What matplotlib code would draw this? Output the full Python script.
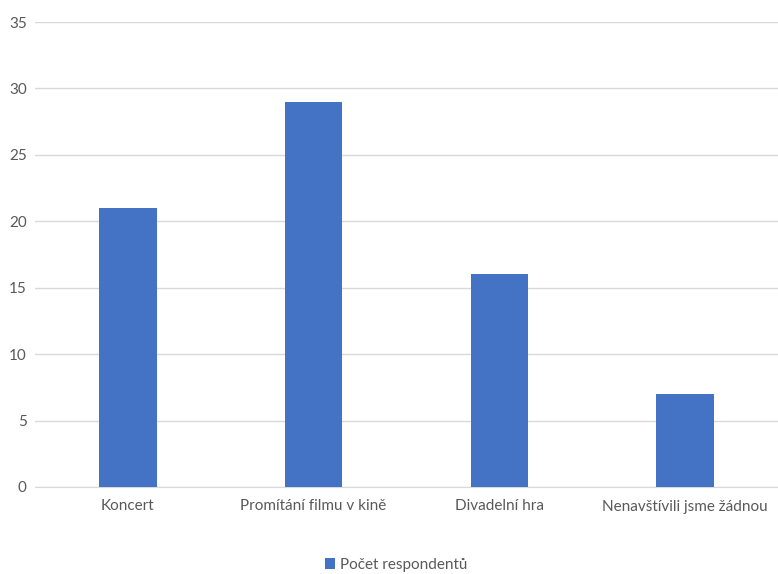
import matplotlib
matplotlib.use("Agg")
import matplotlib.pyplot as plt
from matplotlib import font_manager

categories = ["Koncert", "Promítání filmu v kině", "Divadelní hra", "Nenavštívili jsme žádnou"]
values = [21, 29, 16, 7]
series_name = "Počet respondentů"
yticks = [0, 5, 10, 15, 20, 25, 30, 35]

names = {f.name for f in font_manager.fontManager.ttflist}
fam = ["Liberation Sans Narrow", "Lato", "DejaVu Sans"] if "Liberation Sans Narrow" in names else ["Lato", "DejaVu Sans"]
plt.rcParams['font.family'] = fam

fig = plt.figure(figsize=(7.78, 5.74), dpi=100)
ax = fig.add_axes([35/778, 1-487/574, 1-35/778, (487-22)/574])
x = range(len(categories))
ax.bar(x, values, width=0.31, color="#4472C4", zorder=3, label=series_name)
ax.set_xlim(-0.5, 3.5)
ax.set_ylim(0, 35)
ax.set_yticks(yticks)
ax.set_xticks(list(x))
ax.set_xticklabels(categories)
ax.grid(axis="y", color="#D9D9D9", linewidth=1, zorder=0)
for s in ["top", "right", "left"]:
    ax.spines[s].set_visible(False)
ax.spines["bottom"].set_color("#D9D9D9")
ax.tick_params(axis="both", length=0, labelsize=11, labelcolor="#595959")
ax.tick_params(axis="y", pad=6)
ax.tick_params(axis="x", pad=9)
fig.legend(loc="center", bbox_to_anchor=(396/778, 1-565/574), frameon=False,
           fontsize=11, labelcolor="#595959", handlelength=0.7, handleheight=0.7, handletextpad=0.3)
fig.savefig("out.png", dpi=100)
